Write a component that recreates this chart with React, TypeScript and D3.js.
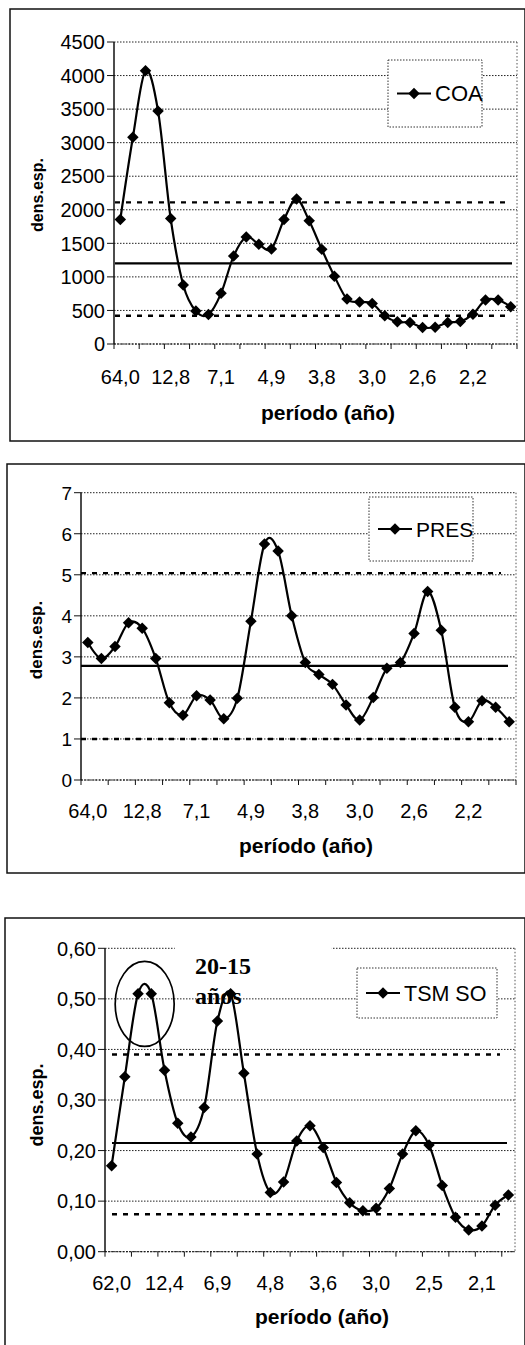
import * as d3 from "d3";

// ── Data ──────────────────────────────────────────────────────────────────────

// Espectro COA — densidad espectral por armónico
const coaValues = [
  1855, 3080, 4070, 3470, 1870, 880, 490, 440, 755, 1310, 1595, 1485, 1415, 1855, 2160, 1835,
  1410, 1010, 670, 625, 605, 420, 330, 320, 245, 250, 320, 335, 445, 655, 655, 555,
];
const coaPeriods = ["64,0", "12,8", "7,1", "4,9", "3,8", "3,0", "2,6", "2,2"];
const coaTicks = [0, 500, 1000, 1500, 2000, 2500, 3000, 3500, 4000, 4500];
// media, límite superior, límite inferior
const coaReference = [1200, 2110, 420];

// Espectro PRES
const presValues = [
  3.35, 2.96, 3.25, 3.83, 3.7, 2.96, 1.88, 1.58, 2.05, 1.95, 1.49, 1.99, 3.87, 5.75, 5.58, 4.0,
  2.86, 2.57, 2.33, 1.83, 1.46, 2.01, 2.72, 2.86, 3.57, 4.59, 3.65, 1.77, 1.42, 1.93, 1.77, 1.42,
];
const presPeriods = ["64,0", "12,8", "7,1", "4,9", "3,8", "3,0", "2,6", "2,2"];
const presTicks = [0, 1, 2, 3, 4, 5, 6, 7];
const presReference = [2.78, 5.04, 1.0];

// Espectro TSM SO
const tsmValues = [
  0.17, 0.346, 0.51, 0.51, 0.359, 0.254, 0.227, 0.285, 0.456, 0.51, 0.353, 0.193, 0.117, 0.138,
  0.219, 0.249, 0.206, 0.137, 0.097, 0.081, 0.086, 0.125, 0.193, 0.239, 0.211, 0.131, 0.068,
  0.043, 0.051, 0.092, 0.112,
];
const tsmPeriods = ["62,0", "12,4", "6,9", "4,8", "3,6", "3,0", "2,5", "2,1"];
const tsmTicks = [0, 0.1, 0.2, 0.3, 0.4, 0.5, 0.6];
const tsmReference = [0.215, 0.39, 0.074];

// ── Helpers ───────────────────────────────────────────────────────────────────

const FONT = "'Liberation Sans', Arial, sans-serif";
const LABEL_EVERY = 4;
const TICK_EVERY = 2;

const commaFormat = (spec: string) => {
  const f = d3.format(spec);
  return (v: number) => f(v).replace(".", ",");
};

// Excel-style diamond marker: a square turned 45°
const diamond = d3.symbol(d3.symbolSquare, 66)() as string;

interface Layout {
  frame: { x: number; y: number; w: number; h: number };
  plot: { left: number; right: number; top: number; bottom: number };
  refSpan: [number, number];
  tickFont: number;
  xLabelY: number;
  titleX: number;
  titleY: number;
  yTitle: { x: number; y: number; size: number };
  legend: { x: number; y: number; w: number; h: number; size: number };
}

interface PanelProps {
  name: string;
  values: number[];
  periods: string[];
  yTicks: number[];
  yFormat: (v: number) => string;
  reference: number[];
  layout: Layout;
  annotate?: boolean;
}

function SpectrumPanel({ name, values, periods, yTicks, yFormat, reference, layout, annotate }: PanelProps) {
  const { frame, plot, legend, yTitle } = layout;
  const n = values.length;

  const x = d3
    .scaleBand<number>()
    .domain(d3.range(n))
    .range([plot.left, plot.right]);
  const bw = x.bandwidth();
  const cx = (i: number) => (x(i) ?? 0) + bw / 2;

  const y = d3
    .scaleLinear()
    .domain([0, yTicks[yTicks.length - 1]])
    .range([plot.bottom, plot.top]);

  const line = d3
    .line<number>()
    .x((_, i) => cx(i))
    .y((d) => y(d))
    .curve(d3.curveCardinal.tension(0));

  const [mean, upper, lower] = reference;
  const boundaries = d3.range(0, n + 1, TICK_EVERY);

  const lgMidY = legend.y + legend.h / 2;
  const lgX1 = legend.x + 9;
  const lgX2 = legend.x + 43;

  return (
    <g>
      {/* outer chart frame */}
      <rect
        x={frame.x}
        y={frame.y}
        width={frame.w}
        height={frame.h}
        fill="white"
        stroke="#111"
        strokeWidth={1.5}
      />

      {/* gridlines */}
      {yTicks.map((t) => (
        <line
          key={`g${t}`}
          x1={plot.left}
          x2={plot.right}
          y1={y(t)}
          y2={y(t)}
          stroke="#222"
          strokeWidth={1}
          strokeDasharray="1.5,1.5"
        />
      ))}
      <line
        x1={plot.right}
        x2={plot.right}
        y1={plot.top}
        y2={plot.bottom}
        stroke="#555"
        strokeDasharray="1.5,2"
      />

      {/* annotation box sits above the grid */}
      {annotate && (
        <g>
          <rect x={cx(5) - 3} y={y(0.6) - 8} width={157} height={48} fill="white" />
          <text
            x={cx(6) + 4}
            y={y(0.6) + 26}
            fontFamily="'Liberation Serif', 'Times New Roman', serif"
            fontWeight="bold"
            fontSize={24}
          >
            20-15
          </text>
          <text
            x={cx(6) + 4}
            y={y(0.5) + 5}
            fontFamily="'Liberation Serif', 'Times New Roman', serif"
            fontWeight="bold"
            fontSize={24}
          >
            años
          </text>
        </g>
      )}

      {/* y axis */}
      <line x1={plot.left} x2={plot.left} y1={plot.top} y2={plot.bottom} stroke="#111" strokeWidth={1.5} />
      {yTicks.map((t) => (
        <g key={`y${t}`}>
          <line x1={plot.left - 7} x2={plot.left} y1={y(t)} y2={y(t)} stroke="#111" />
          <text
            x={plot.left - 9}
            y={y(t)}
            dy="0.36em"
            textAnchor="end"
            fontFamily={FONT}
            fontSize={layout.tickFont}
          >
            {yFormat(t)}
          </text>
        </g>
      ))}

      {/* x axis */}
      <line
        x1={plot.left}
        x2={plot.right}
        y1={plot.bottom}
        y2={plot.bottom}
        stroke="#111"
        strokeDasharray="2,1.5"
      />
      {boundaries.map((b) => (
        <line
          key={`t${b}`}
          x1={plot.left + b * bw}
          x2={plot.left + b * bw}
          y1={plot.bottom}
          y2={plot.bottom + 5}
          stroke="#111"
        />
      ))}
      {periods.map((p, k) => (
        <text
          key={p + k}
          x={cx(k * LABEL_EVERY)}
          y={layout.xLabelY}
          textAnchor="middle"
          fontFamily={FONT}
          fontSize={20}
        >
          {p}
        </text>
      ))}
      <text
        x={layout.titleX}
        y={layout.titleY}
        textAnchor="middle"
        fontFamily={FONT}
        fontWeight="bold"
        fontSize={21}
      >
        período (año)
      </text>
      <text
        transform={`translate(${yTitle.x},${yTitle.y}) rotate(-90)`}
        textAnchor="middle"
        dy="0.35em"
        fontFamily={FONT}
        fontWeight="bold"
        fontSize={yTitle.size}
      >
        dens.esp.
      </text>

      {/* reference levels */}
      <line
        x1={layout.refSpan[0]}
        x2={layout.refSpan[1]}
        y1={y(mean)}
        y2={y(mean)}
        stroke="#000"
        strokeWidth={2.2}
      />
      {[upper, lower].map((v) => (
        <line
          key={`r${v}`}
          x1={layout.refSpan[0]}
          x2={layout.refSpan[1] - 7}
          y1={y(v)}
          y2={y(v)}
          stroke="#000"
          strokeWidth={2.4}
          strokeDasharray="5,6"
        />
      ))}

      {annotate && (
        <ellipse
          cx={(cx(2) + cx(3)) / 2}
          cy={y(0.49)}
          rx={29.5}
          ry={42.5}
          fill="none"
          stroke="#000"
          strokeWidth={1.7}
        />
      )}

      {/* series */}
      <path d={line(values) ?? ""} fill="none" stroke="#000" strokeWidth={2.2} />
      {values.map((v, i) => (
        <path
          key={`m${i}`}
          d={diamond}
          transform={`translate(${cx(i)},${y(v)}) rotate(45)`}
          fill="#000"
        />
      ))}

      {/* legend */}
      <rect
        x={legend.x}
        y={legend.y}
        width={legend.w}
        height={legend.h}
        fill="white"
        stroke="#333"
        strokeDasharray="1.5,1.5"
      />
      <line x1={lgX1} x2={lgX2} y1={lgMidY} y2={lgMidY} stroke="#000" strokeWidth={2.2} />
      <path d={diamond} transform={`translate(${(lgX1 + lgX2) / 2},${lgMidY}) rotate(45)`} fill="#000" />
      <text
        x={lgX2 + 4}
        y={lgMidY}
        dy="0.36em"
        fontFamily={FONT}
        fontSize={legend.size}
      >
        {name}
      </text>
    </g>
  );
}

// ── Layouts ───────────────────────────────────────────────────────────────────

const coaLayout: Layout = {
  frame: { x: 10, y: 9, w: 515, h: 432 },
  plot: { left: 114, right: 517, top: 42, bottom: 344 },
  refSpan: [115, 512],
  tickFont: 20,
  xLabelY: 384,
  titleX: 328,
  titleY: 420,
  yTitle: { x: 37, y: 195, size: 16 },
  legend: { x: 388, y: 60, w: 94, h: 67, size: 22 },
};

const presLayout: Layout = {
  frame: { x: 7, y: 464, w: 518, h: 409 },
  plot: { left: 81, right: 516, top: 492.7, bottom: 780 },
  refSpan: [81, 508],
  tickFont: 19,
  xLabelY: 818,
  titleX: 306,
  titleY: 853,
  yTitle: { x: 36, y: 640, size: 17 },
  legend: { x: 369, y: 497, w: 104, h: 64, size: 21 },
};

const tsmLayout: Layout = {
  frame: { x: 5, y: 918, w: 520, h: 440 },
  plot: { left: 105, right: 515, top: 948.3, bottom: 1251.7 },
  refSpan: [112, 507],
  tickFont: 20,
  xLabelY: 1290,
  titleX: 322,
  titleY: 1324,
  yTitle: { x: 37, y: 1105, size: 18 },
  legend: { x: 357, y: 968, w: 140, h: 50, size: 21.5 },
};

export default function App() {
  return (
    <svg
      width={525}
      height={1345}
      style={{ position: "absolute", left: 0, top: 0, background: "white" }}
    >
      <SpectrumPanel
        name="COA"
        values={coaValues}
        periods={coaPeriods}
        yTicks={coaTicks}
        yFormat={d3.format("d")}
        reference={coaReference}
        layout={coaLayout}
      />
      <SpectrumPanel
        name="PRES"
        values={presValues}
        periods={presPeriods}
        yTicks={presTicks}
        yFormat={d3.format("d")}
        reference={presReference}
        layout={presLayout}
      />
      <SpectrumPanel
        name="TSM SO"
        values={tsmValues}
        periods={tsmPeriods}
        yTicks={tsmTicks}
        yFormat={commaFormat(".2f")}
        reference={tsmReference}
        layout={tsmLayout}
        annotate
      />
    </svg>
  );
}
